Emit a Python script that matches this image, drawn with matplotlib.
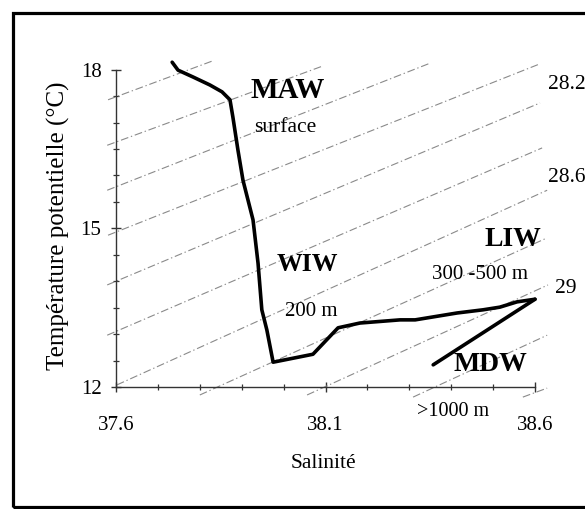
import matplotlib
matplotlib.use("Agg")
import matplotlib.pyplot as plt
from matplotlib.patches import Rectangle
from matplotlib.ticker import MultipleLocator

plt.rcParams['font.family'] = ['Liberation Serif', 'DejaVu Serif']

# Theta-S profile (salinity, potential temperature)
salinity = [37.734, 37.748, 37.784, 37.824, 37.853, 37.872, 37.879, 37.891,
            37.903, 37.927, 37.939, 37.948, 37.960, 37.975, 38.070, 38.130,
            38.182, 38.278, 38.314, 38.414, 38.476, 38.516, 38.557, 38.600,
            38.357]
temperature = [18.14, 17.99, 17.86, 17.71, 17.58, 17.43, 17.10, 16.48,
               15.91, 15.16, 14.34, 13.46, 13.08, 12.47, 12.62, 13.12,
               13.21, 13.27, 13.27, 13.40, 13.46, 13.51, 13.61, 13.66,
               12.42]

# Isopycnals (sigma-theta) as straight segments
sigma_levels = [27.4, 27.6, 27.8, 28.0, 28.2, 28.4, 28.6, 28.8, 29.0, 29.2, 29.4]
iso_s0 = [37.581, 37.579, 37.579, 37.581, 37.579, 37.579, 37.602, 37.800, 38.056, 38.309, 38.571]
iso_t0 = [17.43, 16.57, 15.72, 14.87, 13.93, 12.98, 12.04, 11.85, 11.85, 11.81, 11.81]
iso_s1 = [37.829, 38.094, 38.349, 38.612, 38.612, 38.617, 38.629, 38.629, 38.631, 38.629, 38.629]
iso_t1 = [18.16, 18.07, 18.12, 18.11, 17.37, 16.52, 15.72, 14.82, 13.93, 12.98, 11.98]
labelled_levels = ["28.2", "28.6", "29"]

x_ticks = [37.6, 38.1, 38.6]
y_ticks = [12, 15, 18]

fig = plt.figure(figsize=(5.85, 5.09), dpi=100)
ax = fig.add_axes([0.1625, 0.2084, 0.795, 0.686])

# outer frame
fig.patches.append(Rectangle((13 / 585, 2 / 509), 1.1, 494 / 509,
                             transform=fig.transFigure, fill=False,
                             lw=2.3, ec='black'))

for s0, t0, s1, t1 in zip(iso_s0, iso_t0, iso_s1, iso_t1):
    ax.plot([s0, s1], [t0, t1], color='#8a8a8a', lw=0.8,
            linestyle=(0, (7, 2.5, 1.2, 2.5)), clip_on=False)

ax.plot(salinity[:-1], temperature[:-1], color='black', lw=2.6,
        solid_joinstyle='round', solid_capstyle='round', clip_on=False)
ax.plot(salinity[-2:], temperature[-2:], color='black', lw=2.6,
        solid_capstyle='round', clip_on=False)

ax.set_xlim(37.55, 38.66)
ax.set_ylim(11.7, 18.3)
for side in ('top', 'right'):
    ax.spines[side].set_visible(False)
ax.spines['left'].set_position(('data', 37.6))
ax.spines['bottom'].set_position(('data', 12))
ax.spines['left'].set_bounds(12, 18)
ax.spines['bottom'].set_bounds(37.6, 38.6)
for side in ('left', 'bottom'):
    ax.spines[side].set_color('#333333')
    ax.spines[side].set_linewidth(1.0)

ax.set_xticks(x_ticks)
ax.set_xticklabels([f"{v:.1f}" for v in x_ticks])
ax.set_yticks(y_ticks)
ax.set_yticklabels([str(v) for v in y_ticks])
ax.xaxis.set_minor_locator(MultipleLocator(0.1))
ax.yaxis.set_minor_locator(MultipleLocator(0.5))
ax.tick_params(which='major', direction='inout', length=7, width=1.0,
               color='#333333', labelsize=15)
ax.tick_params(which='minor', direction='inout', length=5, width=0.9,
               color='#333333')
ax.tick_params(axis='x', which='major', pad=17)
ax.tick_params(axis='y', which='major', pad=7)

ax.text(38.096, 10.56, "Salinité", ha='center', va='center', fontsize=15.5,
        clip_on=False)
ax.text(37.462, 15.04, "Température potentielle (°C)", ha='center', va='center',
        rotation=90, fontsize=18, clip_on=False)

# water mass annotations
ax.text(38.010, 17.61, "MAW", ha='center', va='center', fontsize=21, fontweight='bold')
ax.text(38.003, 16.91, "surface", ha='center', va='center', fontsize=15.5)
ax.text(38.056, 14.31, "WIW", ha='center', va='center', fontsize=18.5, fontweight='bold')
ax.text(38.065, 13.42, "200 m", ha='center', va='center', fontsize=15)
ax.text(38.547, 14.78, "LIW", ha='center', va='center', fontsize=20, fontweight='bold')
ax.text(38.469, 14.12, "300 -500 m", ha='center', va='center', fontsize=15)
ax.text(38.493, 12.42, "MDW", ha='center', va='center', fontsize=20, fontweight='bold')
ax.text(38.404, 11.53, ">1000 m", ha='center', va='center', fontsize=14.5)

# isopycnal labels
for txt, s, t in zip(labelled_levels, [38.631, 38.631, 38.648], [17.71, 15.97, 13.87]):
    ax.text(s, t, txt, ha='left', va='center', fontsize=15.5, clip_on=False)

fig.savefig("out.png", dpi=100)
